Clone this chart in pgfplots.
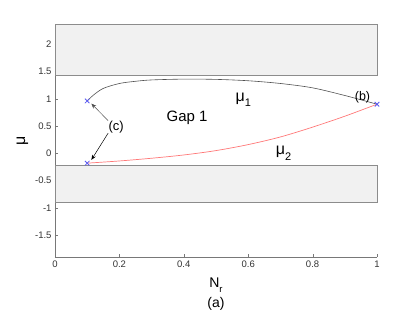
\documentclass[border=0pt]{standalone}
\usepackage{pgfplots}
\pgfplotsset{compat=1.18}
\usepackage{fontspec}
\setmainfont{Liberation Sans}
\usetikzlibrary{arrows.meta}
\definecolor{muone}{RGB}{80,80,80}
\definecolor{mutwo}{RGB}{255,120,120}
\definecolor{crossc}{RGB}{90,90,240}
\definecolor{bandfill}{RGB}{241,241,241}
\definecolor{bandedge}{RGB}{140,140,140}
\definecolor{axgray}{RGB}{120,120,120}
\newcommand{\lsub}[1]{\raisebox{-0.35em}{\fontsize{11}{12}\selectfont #1}}
\begin{document}
\begin{tikzpicture}
\begin{axis}[
  scale only axis, width=322pt, height=233pt,
  xmin=0, xmax=1, ymin=-1.9, ymax=2.37,
  axis x line*=bottom, axis y line*=left,
  axis line style={axgray, line width=0.8pt},
  tick align=inside, major tick length=3pt,
  tick style={axgray},
  xtick={0,0.2,0.4,0.6,0.8,1},
  ytick={-1.5,-1,-0.5,0,0.5,1,1.5,2},
  xticklabels={0,0.2,0.4,0.6,0.8,1},
  yticklabels={-1.5,-1,-0.5,0,0.5,1,1.5,2},
  ticklabel style={font=\fontsize{9.5}{11}\selectfont, text=black!80},
  xlabel={N{\raisebox{-0.35em}{\fontsize{9.5}{10}\selectfont r}}\\[4pt]{(a)}},
  xlabel style={font=\fontsize{14}{15}\selectfont, align=center, yshift=-4pt},
  ylabel={μ}, ylabel style={font=\fontsize{16}{16}\selectfont, yshift=0pt},
  clip=false,
]
\draw[bandedge, fill=bandfill, line width=0.8pt] (axis cs:0,1.42) rectangle (axis cs:1,2.37);
\draw[bandedge, fill=bandfill, line width=0.8pt] (axis cs:0,-0.22) rectangle (axis cs:1,-0.9);
\addplot[muone, line width=0.6pt, smooth] coordinates {
(0.1,0.96)(0.12,1.07)(0.15,1.19)(0.2,1.28)(0.25,1.32)(0.3,1.345)(0.4,1.36)(0.5,1.355)(0.6,1.33)(0.7,1.28)(0.8,1.2)(0.9,1.06)(1.0,0.9)};
\addplot[mutwo, line width=0.7pt, smooth] coordinates {
(0.1,-0.18)(0.2,-0.14)(0.3,-0.09)(0.4,-0.03)(0.5,0.05)(0.6,0.16)(0.7,0.3)(0.8,0.48)(0.9,0.68)(1.0,0.9)};
\addplot[only marks, mark=x, mark size=3.2pt, crossc, thick] coordinates {(0.1,0.96)(0.1,-0.18)(1,0.9)};
\node[font=\fontsize{15}{16}\selectfont] at (axis cs:0.41,0.65) {Gap 1};
\node[font=\fontsize{16}{17}\selectfont] at (axis cs:0.585,0.98) {μ\lsub{1}};
\node[font=\fontsize{16}{17}\selectfont] at (axis cs:0.71,0.0) {μ\lsub{2}};
\node[font=\fontsize{12.5}{13}\selectfont] at (axis cs:0.955,1.03) {(b)};
\node[font=\fontsize{13}{14}\selectfont] (c) at (axis cs:0.19,0.48) {(c)};
\draw[-{Stealth[length=5pt,width=4pt]}, black!70, line width=0.5pt] (axis cs:0.165,0.6) -- (axis cs:0.113,0.91);
\draw[-{Stealth[length=5pt,width=4pt]}, black, line width=0.5pt] (axis cs:0.165,0.37) -- (axis cs:0.113,-0.12);
\end{axis}
\pgfresetboundingbox
\path (current axis.south west) ++(-55pt,-57pt) coordinate (bl);
\path (current axis.north east) ++(38pt,24pt) coordinate (tr);
\useasboundingbox (bl) rectangle (tr);
\end{tikzpicture}
\end{document}
